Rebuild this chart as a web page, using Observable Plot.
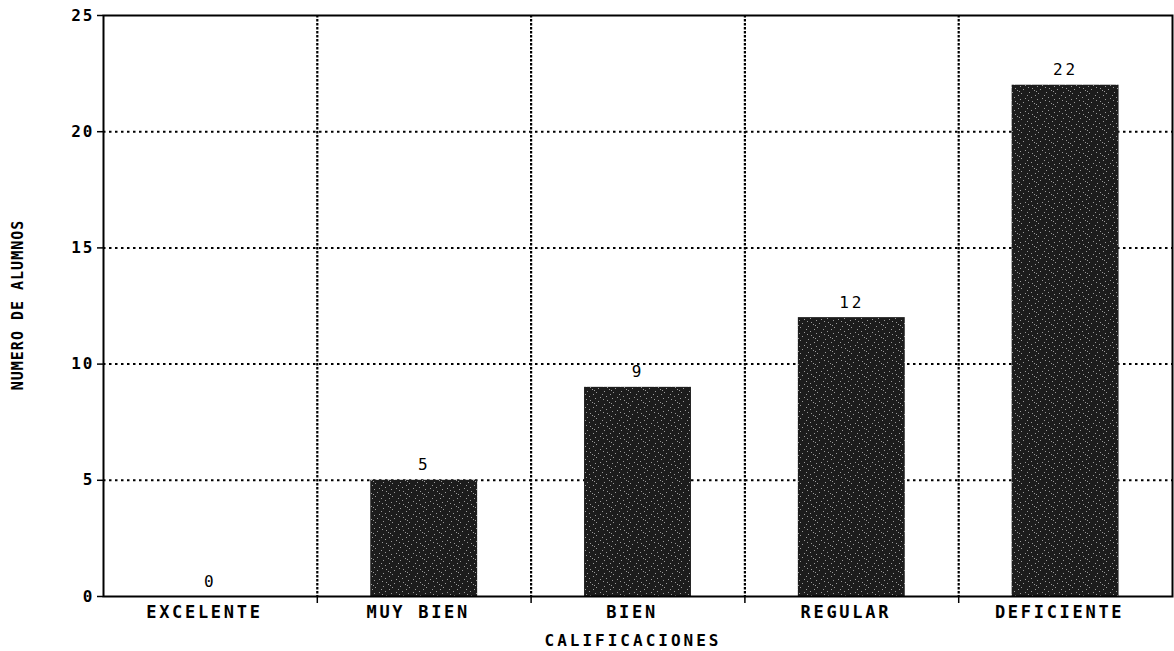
<!DOCTYPE html>
<html>
<head>
<meta charset="utf-8">
<script src="https://cdn.jsdelivr.net/npm/d3@7"></script>
<script src="https://cdn.jsdelivr.net/npm/@observablehq/plot@0.6"></script>
<style>
  html, body { margin: 0; padding: 0; background: #fff; }
  #chart { width: 1174px; height: 651px; }
</style>
</head>
<body>
<div id="chart"></div>
<script>
const categories = ["EXCELENTE", "MUY BIEN", "BIEN", "REGULAR", "DEFICIENTE"];
const values = [0, 5, 9, 12, 22];
const yTicks = [0, 5, 10, 15, 20, 25];
const yTitle = "NUMERO DE ALUMNOS";
const xTitle = "CALIFICACIONES";

const rows = categories.map((c, i) => ({cat: c, i, value: values[i]}));
const boundaries = d3.range(1, categories.length);
const centers = categories.map((c, i) => i + 0.5);
const FONT = "'DejaVu Sans Mono', monospace";

const chart = Plot.plot({
  width: 1174,
  height: 651,
  marginLeft: 103,
  marginRight: 2,
  marginTop: 15,
  marginBottom: 55,
  style: {fontFamily: FONT, background: "#fff", color: "#000", overflow: "visible"},
  x: {type: "linear", domain: [0, categories.length], axis: null},
  y: {domain: [0, 25], axis: null},
  marks: [
    Plot.ruleY([5, 10, 15, 20], {stroke: "#000", strokeWidth: 2, strokeDasharray: "2.5,3.5"}),
    Plot.ruleX(boundaries, {stroke: "#000", strokeWidth: 2.2, strokeDasharray: "2.5,1.5"}),
    Plot.rectY(rows, {x1: d => d.i + 0.25, x2: d => d.i + 0.75, y1: 0, y2: "value", fill: "url(#stip)"}),
    Plot.text(rows, {x: d => d.i + 0.5, y: "value", text: d => String(d.value), dy: -15,
      fontSize: 16, fontFamily: FONT, fill: "#000"}),
    Plot.frame({stroke: "#000", strokeWidth: 2}),
    Plot.axisY({ticks: yTicks, tickSize: 6, tickPadding: 3, label: null, fontSize: 16,
      fontWeight: "bold", strokeWidth: 1.5}),
    Plot.axisX({ticks: boundaries, tickSize: 7, tickFormat: () => "", label: null, strokeWidth: 1.5}),
    Plot.axisX({ticks: centers, tickSize: 0, tickPadding: 9, dx: -6,
      tickFormat: (d) => categories[Math.floor(d)], label: null, fontSize: 17, fontWeight: "bold"})
  ]
});

// stipple pattern for bars
const ns = "http://www.w3.org/2000/svg";
const defs = document.createElementNS(ns, "defs");
const pat = document.createElementNS(ns, "pattern");
pat.setAttribute("id", "stip");
pat.setAttribute("patternUnits", "userSpaceOnUse");
pat.setAttribute("width", 17);
pat.setAttribute("height", 13);
const base = document.createElementNS(ns, "rect");
base.setAttribute("width", 17); base.setAttribute("height", 13); base.setAttribute("fill", "#1c1c1c");
pat.appendChild(base);
const specks = [[1,2],[5,7],[9,1],[12,10],[15,4],[3,11],[7,4],[11,6],[14,12],[0,8],[8,9],[16,0]];
for (const [sx, sy] of specks) {
  const r = document.createElementNS(ns, "rect");
  r.setAttribute("x", sx); r.setAttribute("y", sy);
  r.setAttribute("width", 1); r.setAttribute("height", 1);
  r.setAttribute("fill", "#9a9a9a");
  pat.appendChild(r);
}
defs.appendChild(pat);
chart.insertBefore(defs, chart.firstChild);

// letter spacing for tick labels and value labels
chart.querySelectorAll("[aria-label^='y-axis tick label'] text").forEach(t => t.setAttribute("letter-spacing", "2"));
chart.querySelectorAll("[aria-label^='x-axis tick label'] text").forEach(t => t.setAttribute("letter-spacing", "2.7"));
chart.querySelectorAll("[aria-label='text'] text").forEach(t => t.setAttribute("letter-spacing", "3"));

// titles
const yt = document.createElementNS(ns, "text");
yt.setAttribute("transform", "translate(18,305) rotate(-90)");
yt.setAttribute("text-anchor", "middle");
yt.setAttribute("dominant-baseline", "middle");
yt.setAttribute("font-family", "'DejaVu Sans Mono', monospace");
yt.setAttribute("font-size", "15");
yt.setAttribute("font-weight", "bold");
yt.setAttribute("letter-spacing", "1");
yt.textContent = yTitle;
chart.appendChild(yt);

const xt = document.createElementNS(ns, "text");
xt.setAttribute("x", 633);
xt.setAttribute("y", 641);
xt.setAttribute("text-anchor", "middle");
xt.setAttribute("dominant-baseline", "middle");
xt.setAttribute("font-family", "'DejaVu Sans Mono', monospace");
xt.setAttribute("font-size", "16");
xt.setAttribute("font-weight", "bold");
xt.setAttribute("letter-spacing", "3");
xt.textContent = xTitle;
chart.appendChild(xt);

document.getElementById("chart").appendChild(chart);
</script>
</body>
</html>
